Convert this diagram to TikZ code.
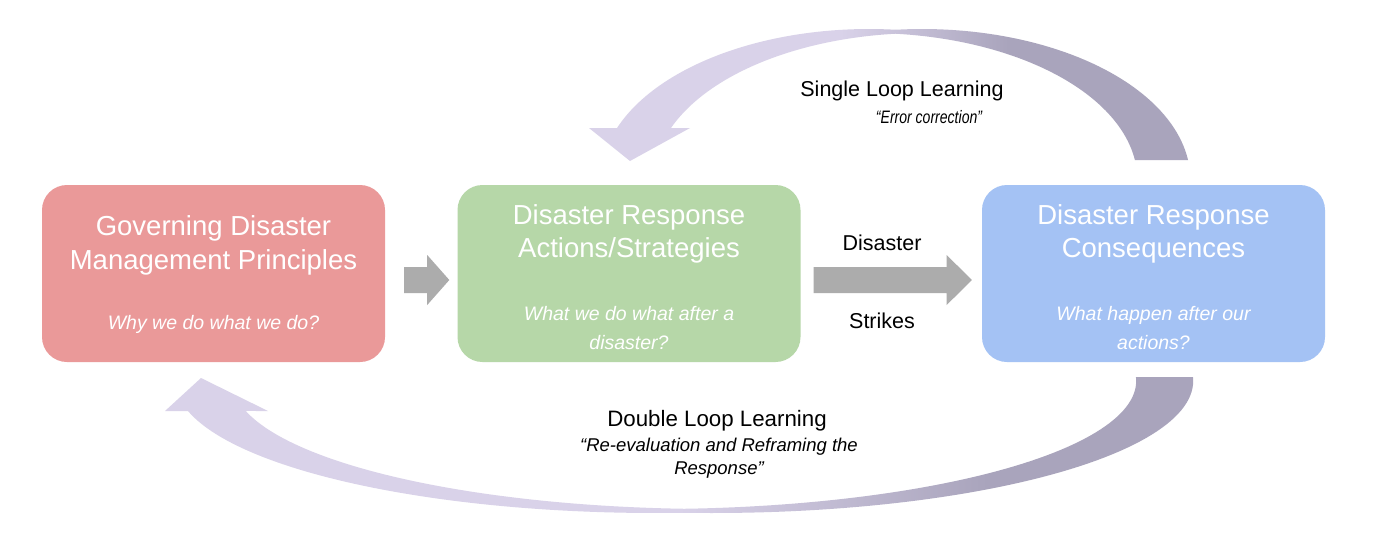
\documentclass[tikz,border=0pt]{standalone}
\usepackage{graphicx}
\usepackage{fontspec}
\setmainfont{Liberation Sans}
\usetikzlibrary{calc}
\definecolor{redbox}{HTML}{EA9999}
\definecolor{greenbox}{HTML}{B6D7A8}
\definecolor{bluebox}{HTML}{A4C2F4}
\definecolor{arrowgray}{HTML}{ACACAC}
\definecolor{lav}{HTML}{D9D2E9}
\definecolor{lavdark}{HTML}{A9A4BC}
\pgfdeclarehorizontalshading{topgrad}{100bp}{color(0bp)=(lav); color(46bp)=(lav); color(60bp)=(lavdark); color(100bp)=(lavdark)}
\pgfdeclarehorizontalshading{botgrad}{100bp}{color(0bp)=(lav); color(50bp)=(lav); color(65bp)=(lavdark); color(100bp)=(lavdark)}
\begin{document}
\begin{tikzpicture}[x=1pt,y=-1pt,
  box/.style={rounded corners=25pt, minimum width=343pt, minimum height=177pt, inner sep=0pt, draw=none},
  titletext/.style={text=white, font=\fontsize{27.5}{33.5}\selectfont, align=center, inner sep=0pt},
  subtext/.style={text=white, font=\fontsize{19.5}{29}\selectfont\itshape, align=center, inner sep=0pt},
  lbl/.style={font=\fontsize{21.5}{26}\selectfont, inner sep=0pt},
  quotetext/.style={font=\fontsize{17}{23}\selectfont\itshape, align=center, inner sep=0pt},
  blockarrow/.style={fill=arrowgray, draw=none}]
\useasboundingbox[fill=white] (0,0) rectangle (1380,544);

% boxes
\node[box, fill=redbox]   (red)   at (213.5,273.5) {};
\node[box, fill=greenbox] (green) at (629,273.5) {};
\node[box, fill=bluebox]  (blue)  at (1153.5,273.5) {};

\node[titletext] (redt) at (213.5,245.5) {Governing Disaster\\Management Principles};
\node[subtext]   (reds) at (213.5,324) {Why we do what we do?};
\node[titletext] (greent) at (629,234) {Disaster Response\\Actions/Strategies};
\node[subtext]   (greens) at (629,328) {What we do what after a\\disaster?};
\node[titletext] (bluet) at (1153.5,234) {Disaster Response\\Consequences};
\node[subtext]   (blues) at (1153.5,328) {What happen after our\\actions?};

% block arrows
\fill[blockarrow] ($(red.east)+(19,-6.5)$) -- ($(red.east)+(42,-6.5)$) -- ($(red.east)+(42,-18.5)$)
  -- ($(green.west)+(-8,6.5)$) -- ($(red.east)+(42,31.5)$) -- ($(red.east)+(42,19.5)$)
  -- ($(red.east)+(19,19.5)$) -- cycle;
\fill[blockarrow] ($(green.east)+(13,-6.5)$) -- ($(green.east)+(146,-6.5)$) -- ($(green.east)+(146,-18.5)$)
  -- ($(blue.west)+(-10,6.5)$) -- ($(green.east)+(146,31.5)$) -- ($(green.east)+(146,19.5)$)
  -- ($(green.east)+(13,19.5)$) -- cycle;
\node[lbl] (dis) at (882,243) {Disaster};
\node[lbl] (str) at (882,321) {Strikes};

% single loop (top)
\shade[shading=topgrad]
  plot[domain=7.61:95.67, samples=50] ({922+268.4*cos(\x)},{180-151*sin(\x)})
  -- plot[domain=84.33:159.86, samples=50] ({869+268.4*cos(\x)},{180-151*sin(\x)})
  -- (589,128) -- (630,161) -- (690,128)
  -- plot[domain=159.29:95.67, samples=50] ({922+268.4*cos(\x)},{180-147*sin(\x)})
  -- plot[domain=84.33:7.82, samples=50] ({869+268.4*cos(\x)},{180-147*sin(\x)})
  -- cycle;
\node[lbl] (slt) at (902,91) {Single Loop Learning};
\node[quotetext, font=\fontsize{18}{20}\selectfont\itshape] (slq) at (929,117) {\scalebox{0.78}[1]{“Error correction”}};

% double loop (bottom)
\shade[shading=botgrad]
  plot[domain=-1.74:93.40, samples=60] ({712.8+480.4*cos(\x)},{381+132*sin(\x)})
  -- plot[domain=86.60:166.86, samples=60] ({655.8+480.4*cos(\x)},{381+132*sin(\x)})
  -- (165,411) -- (201,378) -- (268,411)
  -- plot[domain=166.45:93.40, samples=60] ({712.8+480.4*cos(\x)},{381+128*sin(\x)})
  -- plot[domain=86.60:-1.79, samples=60] ({655.8+480.4*cos(\x)},{381+128*sin(\x)})
  -- cycle;
\node[lbl, font=\fontsize{22.3}{26}\selectfont] (dlt) at (717,421) {Double Loop Learning};
\node[quotetext, font=\fontsize{18.5}{23}\selectfont\itshape] (dlq) at (719,458.5) {“Re-evaluation and Reframing the\\Response”};
\end{tikzpicture}
\end{document}
